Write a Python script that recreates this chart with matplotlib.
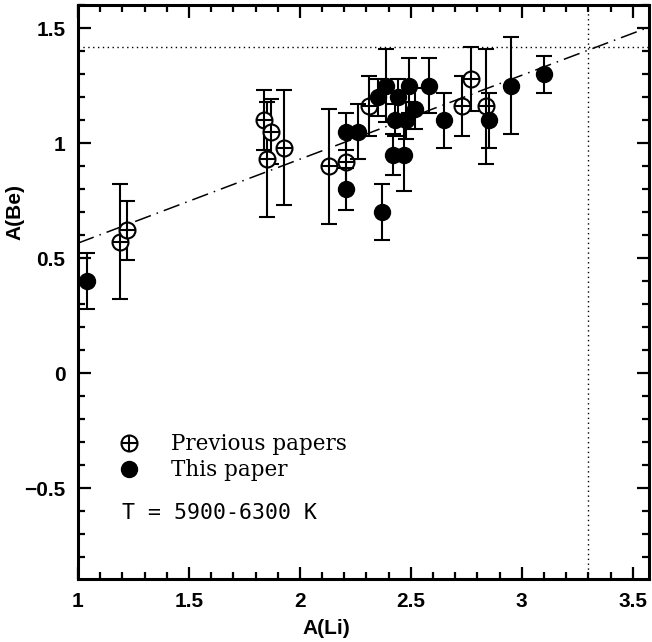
import numpy as np
import matplotlib
matplotlib.use('Agg')
import matplotlib.pyplot as plt
from matplotlib.ticker import MultipleLocator
from matplotlib.lines import Line2D
from matplotlib.legend_handler import HandlerTuple

# Previous papers (open circles with cross)
li_prev = [1.19, 1.22, 1.84, 1.85, 1.87, 1.93, 2.13, 2.21, 2.31, 2.73, 2.77, 2.84]
be_prev = [0.57, 0.62, 1.10, 0.93, 1.05, 0.98, 0.90, 0.92, 1.16, 1.16, 1.28, 1.16]
err_prev = [0.25, 0.13, 0.13, 0.25, 0.14, 0.25, 0.25, 0.13, 0.13, 0.13, 0.14, 0.25]

# This paper (filled circles)
li_this = [1.04, 2.21, 2.21, 2.26, 2.37, 2.35, 2.39, 2.42, 2.43, 2.44, 2.47, 2.48,
           2.49, 2.52, 2.58, 2.65, 2.85, 2.95, 3.10]
be_this = [0.40, 0.80, 1.05, 1.05, 0.70, 1.20, 1.25, 0.95, 1.10, 1.20, 0.95, 1.10,
           1.25, 1.15, 1.25, 1.10, 1.10, 1.25, 1.30]
err_this = [0.12, 0.09, 0.08, 0.12, 0.12, 0.08, 0.16, 0.09, 0.07, 0.08, 0.16, 0.08,
            0.12, 0.09, 0.12, 0.12, 0.12, 0.21, 0.08]

# linear relation drawn as dash-dot, and the meteoritic reference values
fit_a, fit_b = 0.20, 0.365
li_met = 3.30
be_met = 1.42

plt.rcParams['font.family'] = 'Liberation Sans'
fig = plt.figure(figsize=(6.52, 6.42), dpi=100)
ax = fig.add_axes([0.1196, 0.098, 0.8754, 0.894])

xx = np.array([1.0, 3.6])
ax.plot(xx, fit_a + fit_b * xx, color='black', lw=1.1, ls=(0, (11, 4, 1, 4)))
ax.axvline(li_met, color='black', lw=1.0, ls=(0, (1, 2.5)))
ax.axhline(be_met, color='black', lw=1.0, ls=(0, (1, 2.5)))

ax.errorbar(li_prev, be_prev, yerr=err_prev, fmt='none', ecolor='black',
            elinewidth=1.5, capsize=6, capthick=1.5, zorder=3)
ax.plot(li_prev, be_prev, 'o', ms=11.5, mfc='white', mec='black', mew=1.5, zorder=4)
ax.plot(li_prev, be_prev, '+', ms=11.5, color='black', mew=1.5, zorder=4)

ax.errorbar(li_this, be_this, yerr=err_this, fmt='none', ecolor='black',
            elinewidth=1.5, capsize=6, capthick=1.5, zorder=5)
ax.plot(li_this, be_this, 'o', ms=11.5, color='black', zorder=6)

# legend: circle and cross drawn on top of each other
h_open = Line2D([], [], marker='o', ms=11.5, mfc='white', mec='black', mew=1.5, ls='none')
h_plus = Line2D([], [], marker='+', ms=11.5, color='black', mew=1.5, ls='none')
h_fill = Line2D([], [], marker='o', ms=11.5, color='black', ls='none')
leg = ax.legend([(h_open, h_plus), h_fill], ['Previous papers', 'This paper'],
                handler_map={tuple: HandlerTuple(ndivide=1, pad=0)},
                loc='upper left', bbox_to_anchor=(0.036, 0.288), frameon=False,
                prop={'family': 'DejaVu Serif', 'size': 15.5},
                handlelength=1.0, handletextpad=1.45, labelspacing=0.2)

ax.text(1.2, -0.61, 'T = 5900-6300 K', fontsize=15.5, family='DejaVu Sans Mono',
        ha='left', va='center')

ax.set_xlim(1.0, 3.572)
ax.set_ylim(-0.896, 1.6)
ax.xaxis.set_major_locator(MultipleLocator(0.5))
ax.xaxis.set_minor_locator(MultipleLocator(0.1))
ax.yaxis.set_major_locator(MultipleLocator(0.5))
ax.yaxis.set_minor_locator(MultipleLocator(0.1))
ax.xaxis.set_major_formatter(plt.FuncFormatter(lambda v, p: '%g' % v))
ax.yaxis.set_major_formatter(plt.FuncFormatter(lambda v, p: ('%g' % v).replace('-', '\u2212')))

ax.tick_params(which='both', direction='in', top=True, right=True, width=1.6)
ax.tick_params(which='major', length=9, pad=9, labelsize=15)
ax.tick_params(which='minor', length=5)
for lab in ax.get_xticklabels() + ax.get_yticklabels():
    lab.set_fontweight('bold')
for s in ax.spines.values():
    s.set_linewidth(2.2)

ax.set_xlabel('A(Li)', fontsize=15, fontweight='bold')
ax.set_ylabel('A(Be)', fontsize=15, fontweight='bold')
ax.xaxis.set_label_coords(0.436, -0.07)
ax.yaxis.set_label_coords(-0.093, 0.64)

plt.savefig('out.png', dpi=100)
